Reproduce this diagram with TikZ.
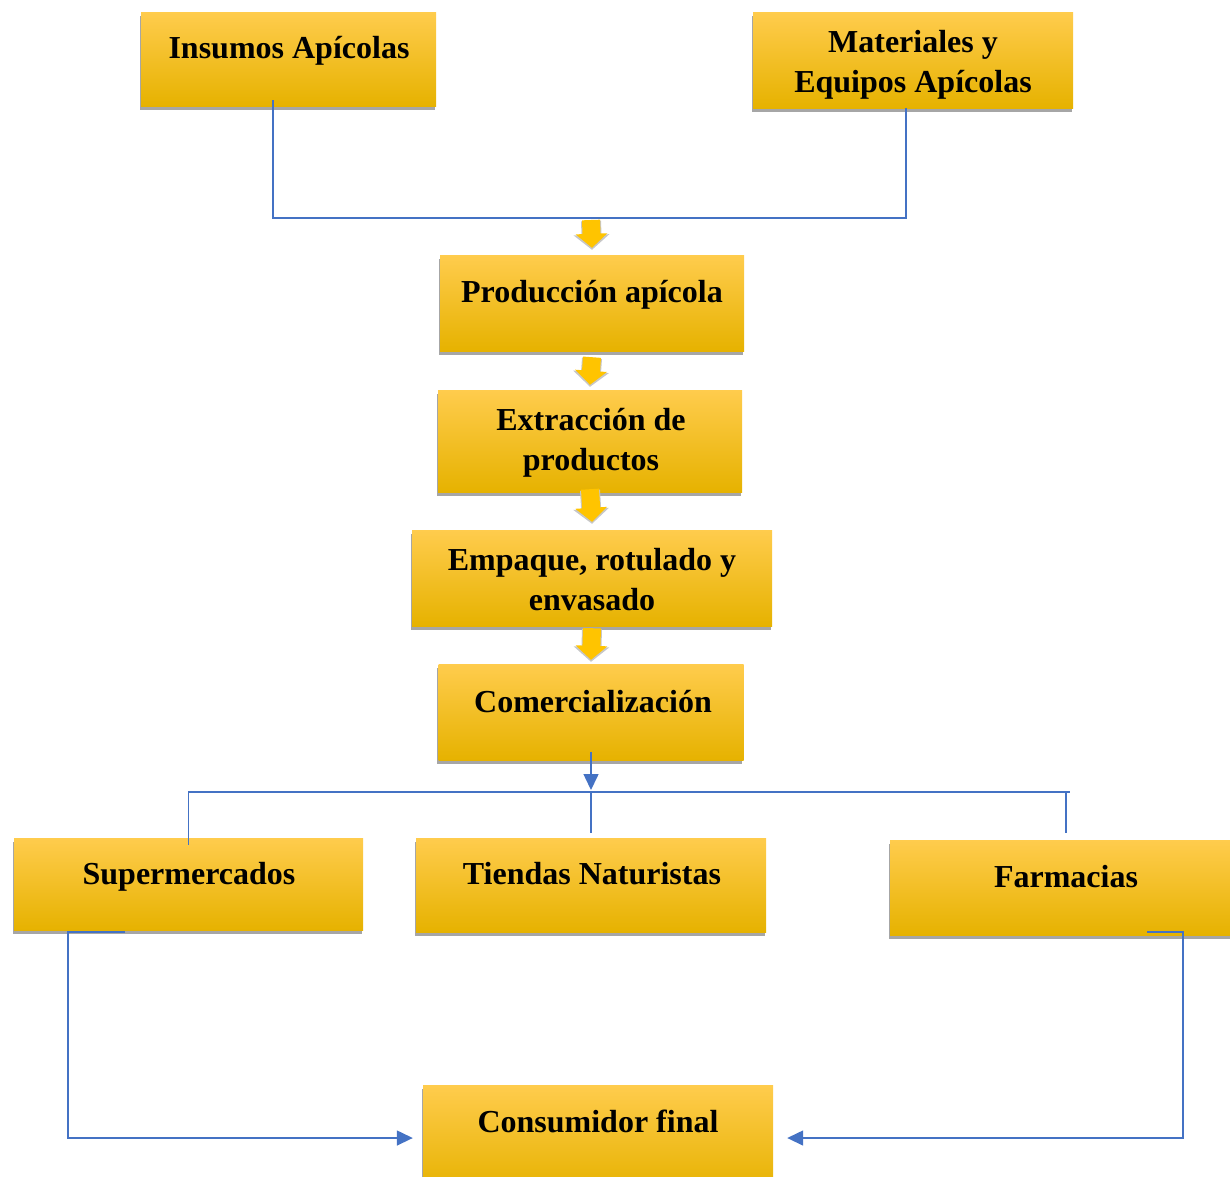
\documentclass[tikz,border=0pt]{standalone}
\usepackage{fontspec}
\setmainfont{Liberation Serif}
\usetikzlibrary{arrows.meta, shadows}

\definecolor{azul}{RGB}{68,114,196}
\definecolor{oroclaro}{RGB}{255,204,77}
\definecolor{oro}{RGB}{255,196,0}
\definecolor{orooscuro}{RGB}{230,178,0}

\tikzset{
    caja/.style={rectangle, inner sep=0pt, top color=oroclaro, middle color=oro, bottom color=orooscuro,
        general shadow={shadow xshift=-1.5pt, shadow yshift=-4pt, fill=black!35}},
    texto/.style={anchor=base, align=center, inner sep=0pt, font=\fontsize{32}{40}\selectfont\bfseries},
    linea/.style={draw=azul, line width=1.5pt},
    flecha/.style={linea, -{Triangle[length=16pt, width=15pt]}},
    gruesa/.style={draw=oro, line width=18pt, -{Triangle[length=14pt, width=31pt]}},
    sombra/.style={draw=black!22, line width=20pt, -{Triangle[length=15pt, width=35pt]}},
}

\begin{document}
\begin{tikzpicture}[x=1pt, y=-1pt]
    \useasboundingbox (0,0) rectangle (1230,1176);

    % Cajas
    \node[caja, minimum width=295pt, minimum height=94pt]  (ins) at (288.5,59) {};
    \node[caja, minimum width=320pt, minimum height=96pt]  (mat) at (913,60) {};
    \node[caja, minimum width=304pt, minimum height=96pt]  (pro) at (592,303) {};
    \node[caja, minimum width=304pt, minimum height=102pt] (ext) at (590,441) {};
    \node[caja, minimum width=360pt, minimum height=96pt]  (emp) at (592,578) {};
    \node[caja, minimum width=305pt, minimum height=96pt]  (com) at (591,712) {};
    \node[caja, minimum width=349pt, minimum height=92pt]  (sup) at (188.5,884) {};
    \node[caja, minimum width=350pt, minimum height=94pt]  (tie) at (591,885) {};
    \node[caja, minimum width=352pt, minimum height=95pt]  (far) at (1066,887.5) {};
    \node[caja, minimum width=350pt, minimum height=106pt] (con) at (598,1138) {};

    % Textos (base = ultima linea)
    \node[texto] (t-ins) at (289,58)   {Insumos Apícolas};
    \node[texto] (t-mat) at (913,92)   {Materiales y\\Equipos Apícolas};
    \node[texto] (t-pro) at (592,302)  {Producción apícola};
    \node[texto] (t-ext) at (591,470)  {Extracción de\\productos};
    \node[texto] (t-emp) at (592,610)  {Empaque, rotulado y\\envasado};
    \node[texto] (t-com) at (593,712)  {Comercialización};
    \node[texto] (t-sup) at (189,884)  {Supermercados};
    \node[texto] (t-tie) at (592,884)  {Tiendas Naturistas};
    \node[texto] (t-far) at (1066,887) {Farmacias};
    \node[texto] (t-con) at (598,1132) {Consumidor final};

    \coordinate (union) at (591,218);
    \coordinate (reparto) at (591,792);

    % Flechas gruesas
    \draw[sombra] ([yshift=-3pt]union) -- ([yshift=5pt]pro.north);
    \draw[gruesa] ([yshift=-2pt]union) -- ([yshift=7pt]pro.north);
    \foreach \a/\b/\s/\e in {pro/ext/-6/5, ext/emp/3/8, emp/com/-2/4}{
        \draw[sombra] ([yshift=\s pt-1pt]\a.south) -- ([yshift=\e pt-2pt]\b.north);
        \draw[gruesa] ([yshift=\s pt]\a.south) -- ([yshift=\e pt]\b.north);
    }

    % Conectores
    \draw[linea] ([xshift=-15.5pt, yshift=6pt]ins.south) |- (union) -| ([xshift=-7pt]mat.south);
    \draw[flecha] ([yshift=8pt]com.south) -- ([yshift=2pt]reparto);
    \draw[linea] ([yshift=-7pt]sup.north) |- ([xshift=4pt]reparto -| far.north);
    \draw[linea] (reparto -| far.north) -- ([yshift=7pt]far.north);
    \draw[linea] (reparto) -- ([yshift=5pt]tie.north);
    \draw[flecha] ([xshift=-63.5pt, yshift=-2pt]sup.south) -- ([xshift=-120.5pt, yshift=-2pt]sup.south) |- ([xshift=-10pt]con.west);
    \draw[flecha] ([xshift=81pt, yshift=3pt]far.south) -- ([xshift=117pt, yshift=3pt]far.south) |- ([xshift=14pt]con.east);

\end{tikzpicture}
\end{document}
